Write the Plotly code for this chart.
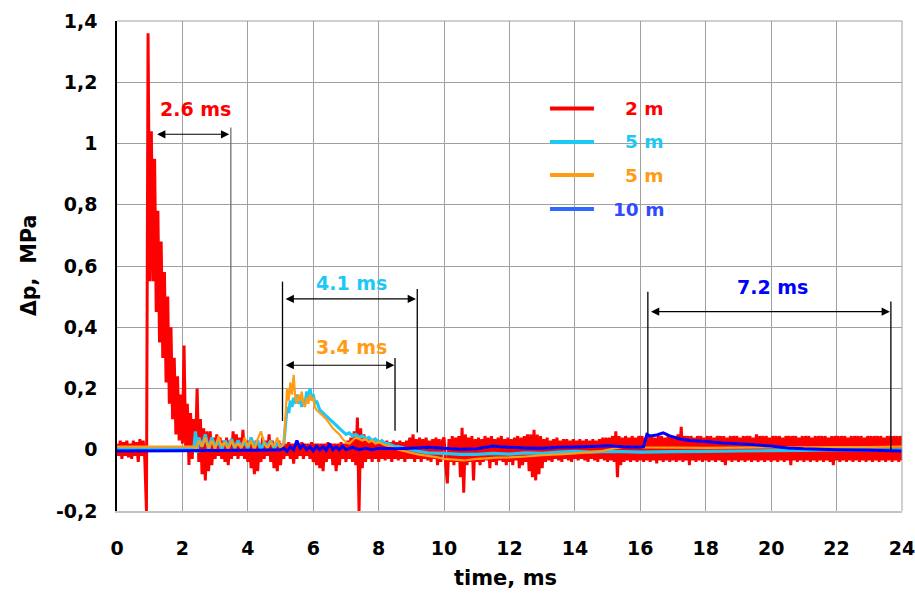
import plotly.graph_objects as go

# ---------------- data ----------------
# red (2 m): sampled every 0.05 ms from 0 to 24 ms, one row per millisecond
red_rows = [
    [0.02,-0.02,0.03,-0.03,0.025,-0.02,0.03,-0.025,0.02,-0.03,0.03,-0.02,0.025,-0.04,0.035,-0.02,0.03,-0.03,-0.2,1.36],
    [0.55,1.04,0.55,0.95,0.45,0.78,0.35,0.68,0.3,0.58,0.22,0.5,0.15,0.4,0.1,0.3,0.05,0.24,0.03,0.18],
    [0.02,0.34,0.0,0.15,-0.05,0.12,-0.03,0.1,0.0,0.2,-0.04,0.1,-0.08,0.07,-0.1,0.06,-0.07,0.06,-0.05,0.04],
    [-0.03,0.05,-0.02,0.04,-0.03,0.03,-0.04,0.04,-0.05,0.03,-0.03,0.06,-0.02,0.05,-0.03,0.04,-0.02,0.065,-0.03,0.03],
    [-0.04,0.03,-0.06,0.02,-0.08,0.03,-0.07,0.02,-0.04,0.04,-0.03,0.03,-0.02,0.05,-0.04,0.03,-0.06,0.02,-0.07,0.03],
    [-0.05,0.02,-0.03,0.02,-0.02,0.025,-0.03,0.02,-0.045,0.02,-0.03,0.02,-0.02,0.025,-0.03,0.02,-0.02,0.02,-0.03,0.025],
    [-0.04,0.02,-0.05,0.02,-0.06,0.02,-0.07,0.02,-0.04,0.025,-0.03,0.02,-0.05,0.02,-0.07,0.02,-0.05,0.025,-0.03,0.02],
    [-0.04,0.03,-0.03,0.04,-0.04,0.06,-0.05,0.105,-0.2,0.07,-0.06,0.05,-0.04,0.04,-0.03,0.03,-0.04,0.035,-0.03,0.025],
    [-0.04,0.03,-0.03,0.025,-0.035,0.03,-0.03,0.025,-0.04,0.03,-0.03,0.025,-0.035,0.03,-0.03,0.025,-0.04,0.03,-0.03,0.04],
    [-0.03,0.05,-0.04,0.035,-0.03,0.04,-0.04,0.035,-0.03,0.04,-0.035,0.03,-0.04,0.035,-0.03,0.04,-0.05,0.035,-0.04,0.03],
    [0.04,-0.05,-0.11,0.035,-0.04,0.045,-0.05,0.04,-0.04,0.045,-0.09,0.072,-0.14,0.05,-0.05,0.04,-0.04,0.045,-0.1,0.035],
    [-0.04,0.04,-0.05,0.035,-0.04,0.045,-0.035,0.04,-0.06,0.045,-0.04,0.035,-0.05,0.04,-0.035,0.045,-0.04,0.035,-0.05,0.04],
    [-0.04,0.035,-0.05,0.04,-0.035,0.045,-0.06,0.04,-0.05,0.045,-0.04,0.05,-0.07,0.05,-0.09,0.065,-0.1,0.05,-0.08,0.045],
    [-0.06,0.035,-0.04,0.04,-0.035,0.03,-0.04,0.035,-0.03,0.04,-0.035,0.03,-0.04,0.035,-0.03,0.035,-0.035,0.03,-0.04,0.035],
    [-0.03,0.03,-0.035,0.035,-0.03,0.03,-0.035,0.035,-0.04,0.03,-0.03,0.035,-0.035,0.03,-0.04,0.035,-0.03,0.04,-0.035,0.04],
    [-0.04,0.04,-0.035,0.045,-0.04,0.06,-0.09,0.045,-0.05,0.04,-0.04,0.045,-0.035,0.04,-0.04,0.045,-0.035,0.04,-0.04,0.045],
    [-0.035,0.045,-0.04,0.04,-0.035,0.045,-0.04,0.045,-0.035,0.04,-0.045,0.045,-0.035,0.045,-0.04,0.04,-0.035,0.045,-0.04,0.045],
    [-0.035,0.045,-0.04,0.05,-0.035,0.075,-0.04,0.045,-0.035,0.045,-0.05,0.045,-0.035,0.04,-0.04,0.045,-0.035,0.045,-0.04,0.04],
    [-0.035,0.045,-0.04,0.045,-0.035,0.04,-0.04,0.045,-0.035,0.045,-0.04,0.045,-0.05,0.04,-0.035,0.045,-0.04,0.045,-0.035,0.045],
    [-0.04,0.04,-0.035,0.045,-0.04,0.045,-0.035,0.045,-0.04,0.04,-0.035,0.05,-0.04,0.045,-0.035,0.045,-0.04,0.045,-0.035,0.04],
    [-0.04,0.045,-0.035,0.045,-0.04,0.045,-0.035,0.04,-0.04,0.045,-0.035,0.045,-0.05,0.045,-0.035,0.045,-0.04,0.04,-0.035,0.045],
    [-0.04,0.045,-0.035,0.045,-0.04,0.04,-0.035,0.045,-0.04,0.045,-0.035,0.045,-0.04,0.045,-0.035,0.04,-0.04,0.045,-0.05,0.045],
    [-0.035,0.045,-0.04,0.045,-0.035,0.045,-0.04,0.04,-0.035,0.045,-0.04,0.045,-0.035,0.045,-0.04,0.045,-0.035,0.04,-0.04,0.045],
    [-0.035,0.045,-0.04,0.045,-0.035,0.045,-0.04,0.045,-0.035,0.04,-0.04,0.045,-0.035,0.045,-0.04,0.045,-0.035,0.045,-0.04,0.045],
    [-0.035],
]
red_v = [v for row in red_rows for v in row]
red_t = [round(0.05 * i, 2) for i in range(len(red_v))]

cyan_t = [0, 2.35, 2.4, 2.45, 2.5, 2.6, 2.7, 2.8, 2.9, 3.0, 3.1, 3.2, 3.3, 3.4, 3.5, 3.6, 3.7, 3.8, 3.9, 4.0,
          4.1, 4.2, 4.3, 4.4, 4.5, 4.6, 4.7, 4.8, 4.9, 5.0, 5.1, 5.15, 5.2, 5.25, 5.3, 5.35, 5.4, 5.45, 5.5, 5.55,
          5.6, 5.65, 5.7, 5.75, 5.8, 5.85, 5.9, 5.95, 6.0, 6.05, 6.1, 6.2, 6.3, 6.4, 6.5, 6.6, 6.7, 6.8, 6.9, 7.0,
          7.1, 7.2, 7.3, 7.4, 7.5, 7.6, 7.7, 7.8, 7.9, 8.0, 8.1, 8.2, 8.3, 8.4, 8.5, 8.6, 8.8, 9.0, 9.2, 9.5,
          10.0, 10.5, 11.0, 11.5, 12.0, 12.5, 13.0, 13.5, 14.0, 14.5, 15.0, 15.5, 16.0, 17.0, 18.0, 19.0, 20.0,
          21.0, 22.0, 23.0, 24.0]
cyan_v = [0.005, 0.005, 0.06, -0.01, 0.04, 0.01, 0.05, 0.0, 0.04, 0.01, 0.03, 0.0, 0.03, 0.01, 0.035, 0.005, 0.03, 0.01, 0.025, 0.005,
          0.04, 0.01, 0.03, 0.0, 0.025, 0.01, 0.03, 0.005, 0.02, 0.01, 0.02, 0.08, 0.14, 0.12, 0.16, 0.14, 0.17, 0.15, 0.18, 0.15,
          0.17, 0.14, 0.16, 0.15, 0.19, 0.17, 0.2, 0.17, 0.18, 0.15, 0.16, 0.13, 0.12, 0.11, 0.1, 0.09, 0.08, 0.07, 0.06, 0.05,
          0.055, 0.045, 0.05, 0.04, 0.045, 0.035, 0.04, 0.03, 0.035, 0.025, 0.03, 0.02, 0.02, 0.015, 0.01, 0.01, 0.005, 0.0, -0.005, -0.01,
          -0.012, -0.015, -0.015, -0.012, -0.014, -0.01, -0.012, -0.008, -0.005, -0.008, -0.005, -0.006, -0.008, -0.006, -0.005, -0.004, -0.003,
          -0.002, 0.0, -0.001, 0.0]

orange_t = [0, 2.35, 2.4, 2.5, 2.6, 2.7, 2.8, 2.9, 3.0, 3.1, 3.2, 3.3, 3.4, 3.5, 3.6, 3.7, 3.8, 3.9, 4.0, 4.1,
            4.2, 4.3, 4.4, 4.5, 4.6, 4.7, 4.8, 4.9, 5.0, 5.1, 5.15, 5.2, 5.25, 5.3, 5.35, 5.4, 5.45, 5.5, 5.55, 5.6,
            5.65, 5.7, 5.75, 5.8, 5.85, 5.9, 5.95, 6.0, 6.05, 6.1, 6.2, 6.3, 6.4, 6.5, 6.6, 6.7, 6.8, 6.9, 7.0, 7.1,
            7.2, 7.3, 7.4, 7.5, 7.6, 7.7, 7.8, 7.9, 8.0, 8.2, 8.4, 8.6, 8.8, 9.0, 9.2, 9.5, 9.8, 10.0, 10.3, 10.6,
            11.0, 11.3, 11.6, 12.0, 12.5, 13.0, 13.5, 14.0, 14.5, 14.8, 15.0, 15.5, 16.0, 17.0, 18.0, 19.0, 20.0,
            21.0, 22.0, 23.0, 24.0]
orange_v = [0.01, 0.01, 0.0, 0.03, 0.01, 0.04, 0.005, 0.03, 0.0, 0.045, 0.01, 0.025, 0.0, 0.03, 0.01, 0.02, 0.005, 0.04, 0.01, 0.03,
            0.0, 0.035, 0.06, 0.02, 0.005, 0.025, 0.01, 0.04, 0.005, 0.02, 0.1, 0.2, 0.16, 0.22, 0.18, 0.245, 0.17, 0.15, 0.18, 0.16,
            0.19, 0.15, 0.14, 0.17, 0.15, 0.18, 0.16, 0.17, 0.14, 0.13, 0.12, 0.11, 0.1, 0.085, 0.07, 0.06, 0.05, 0.035, 0.024, 0.02,
            0.03, 0.04, 0.035, 0.03, 0.035, 0.025, 0.03, 0.02, 0.025, 0.015, 0.01, 0.0, -0.005, -0.01, -0.015, -0.02, -0.025, -0.03, -0.032, -0.035,
            -0.03, -0.028, -0.026, -0.025, -0.022, -0.018, -0.015, -0.012, -0.008, -0.005, 0.0, 0.01, 0.008, 0.007, 0.006, 0.007, 0.008,
            0.008, 0.009, 0.009, 0.01]

blue_t = [0, 2.0, 4.0, 5.0, 5.1, 5.2, 5.3, 5.4, 5.5, 5.6, 5.7, 5.8, 5.9, 6.0, 6.1, 6.2, 6.3, 6.4, 6.5, 6.6,
          6.7, 6.8, 6.9, 7.0, 7.2, 7.4, 7.6, 7.8, 8.0, 8.5, 9.0, 9.5, 10.0, 10.5, 11.0, 11.5, 11.7, 12.0, 12.5, 13.0,
          13.5, 14.0, 14.5, 15.0, 15.5, 16.0, 16.1, 16.2, 16.3, 16.5, 16.7, 16.9, 17.2, 17.5, 18.0, 18.5, 19.0, 19.5,
          20.0, 20.5, 21.0, 22.0, 23.0, 24.0]
blue_v = [-0.004, -0.003, -0.002, 0.0, 0.005, -0.005, 0.01, 0.0, 0.03, 0.005, 0.015, 0.0, 0.01, -0.003, 0.012, 0.0, 0.01, -0.002, 0.02, 0.0,
          0.01, 0.0, 0.012, 0.0, 0.008, 0.0, 0.005, 0.0, 0.005, 0.003, 0.005, 0.008, 0.005, 0.002, 0.003, 0.012, 0.01, 0.008, 0.006, 0.005,
          0.008, 0.009, 0.011, 0.013, 0.01, 0.008, 0.01, 0.05, 0.045, 0.048, 0.055, 0.045, 0.035, 0.03, 0.027, 0.022, 0.02, 0.016,
          0.012, 0.006, 0.003, 0.0, -0.002, -0.004]

series_names = ["2 m", "5 m", "5 m", "10 m"]
x_ticks = [0, 2, 4, 6, 8, 10, 12, 14, 16, 18, 20, 22, 24]
y_ticks = [-0.2, 0, 0.2, 0.4, 0.6, 0.8, 1.0, 1.2, 1.4]
y_ticktext = ["-0,2", "0", "0,2", "0,4", "0,6", "0,8", "1", "1,2", "1,4"]

# duration labels: text, x, y
dur_labels = ["2.6 ms", "4.1 ms", "3.4 ms", "7.2 ms"]
dur_text_x = [2.41, 7.16, 7.16, 20.03]
dur_text_y = [1.114, 0.544, 0.336, 0.532]
# double arrows: x_start, x_end, y
arrow_x0 = [1.18, 5.11, 5.11, 16.28]
arrow_x1 = [3.43, 9.14, 8.48, 23.63]
arrow_y = [1.03, 0.4925, 0.276, 0.451]
# vertical marker lines: x, y_top, y_bottom
vline_x = [3.48, 5.06, 9.18, 8.50, 16.23, 23.66]
vline_top = [1.052, 0.549, 0.525, 0.30, 0.516, 0.484]
vline_bot = [0.094, 0.094, 0.056, 0.062, 0.052, 0.0]

# ---------------- style ----------------
FONT = "DejaVu Sans"
RED = "#ff0000"
CYAN = "#1ec8f5"
ORANGE = "#ff9c14"
BLUE = "#0000ff"
colors = [RED, CYAN, ORANGE, BLUE]
legend_line_colors = [RED, CYAN, ORANGE, "#3366ff"]
legend_text_colors = [RED, CYAN, ORANGE, "#2f4bff"]
widths = [3, 3.2, 2.2, 3]
dur_colors = [RED, CYAN, ORANGE, BLUE]
vline_colors = ["#707070", "#000000", "#000000", "#000000", "#000000", "#000000"]

fig = go.Figure()
for t, v, c, w, n in zip([red_t, cyan_t, orange_t, blue_t], [red_v, cyan_v, orange_v, blue_v],
                         colors, widths, series_names):
    fig.add_trace(go.Scatter(x=t, y=v, mode="lines", name=n, showlegend=False,
                             line=dict(color=c, width=w, simplify=False)))

shapes = []
for x, y0, y1, c in zip(vline_x, vline_top, vline_bot, vline_colors):
    shapes.append(dict(type="line", xref="x", yref="y", x0=x, x1=x, y0=y0, y1=y1,
                       line=dict(color=c, width=1.3)))
# top and right frame lines
shapes.append(dict(type="line", xref="paper", yref="paper", x0=0, x1=1, y0=1, y1=1,
                   line=dict(color="#a0a0a0", width=1)))
shapes.append(dict(type="line", xref="paper", yref="paper", x0=1, x1=1, y0=0, y1=1,
                   line=dict(color="#a0a0a0", width=1)))

annotations = []
for txt, x, y, c in zip(dur_labels, dur_text_x, dur_text_y, dur_colors):
    annotations.append(dict(text=txt, x=x, y=y, xref="x", yref="y", showarrow=False,
                            font=dict(family=FONT, size=19, color=c, weight="bold"),
                            xanchor="center", yanchor="middle"))
for x0, x1, y in zip(arrow_x0, arrow_x1, arrow_y):
    annotations.append(dict(text="", x=x1, y=y, ax=x0, ay=y, xref="x", yref="y",
                            axref="x", ayref="y", showarrow=True, arrowside="end+start",
                            arrowhead=2, startarrowhead=2, arrowsize=1.5, startarrowsize=1.5,
                            arrowwidth=1.1, arrowcolor="#000000"))

# custom legend
leg_y = [0.8214, 0.7531, 0.6857, 0.6163]
for n, lc, tc, y in zip(series_names, legend_line_colors, legend_text_colors, leg_y):
    shapes.append(dict(type="line", xref="paper", yref="paper", x0=0.5516, x1=0.6076, y0=y, y1=y,
                       line=dict(color=lc, width=4)))
    annotations.append(dict(text=n, x=0.6994, y=y, xref="paper", yref="paper", showarrow=False,
                            xanchor="right", yanchor="middle",
                            font=dict(family=FONT, size=18.5, color=tc, weight="bold")))

# axis titles
annotations.append(dict(text="time, ms", x=0.495, y=0, xref="paper", yref="paper", yshift=-67,
                        showarrow=False, xanchor="center", yanchor="middle",
                        font=dict(family=FONT, size=21, color="#000000", weight="bold")))
annotations.append(dict(text="Δp,\u00a0 MPa", x=0, y=0.5, xref="paper", yref="paper", xshift=-88,
                        showarrow=False, xanchor="center", yanchor="middle", textangle=-90,
                        font=dict(family=FONT, size=20.5, color="#000000", weight="bold")))

fig.update_layout(
    width=915, height=593,
    margin=dict(l=117, r=13, t=21, b=82, pad=0, autoexpand=False),
    paper_bgcolor="white", plot_bgcolor="white",
    showlegend=False,
    shapes=shapes, annotations=annotations,
    font=dict(family=FONT, color="#000000"),
)
fig.update_xaxes(range=[0, 24], tickvals=x_ticks, ticktext=[str(v) for v in x_ticks],
                 automargin=False,
                 showgrid=True, gridcolor="#a0a0a0", gridwidth=1, zeroline=False,
                 showline=True, linecolor="#c4c4c4", linewidth=2, ticks="",
                 ticklabelstandoff=19, ticklabeloverflow="allow",
                 tickfont=dict(family=FONT, size=19, color="#000000", weight="bold"))
fig.update_yaxes(range=[-0.2, 1.4], tickvals=y_ticks, ticktext=y_ticktext,
                 automargin=False,
                 showgrid=True, gridcolor="#a0a0a0", gridwidth=1, zeroline=False,
                 showline=True, linecolor="#000000", linewidth=1.5, ticks="",
                 ticklabelstandoff=14, ticklabeloverflow="allow",
                 tickfont=dict(family=FONT, size=19, color="#000000", weight="bold"))

fig.write_html("out.html")
